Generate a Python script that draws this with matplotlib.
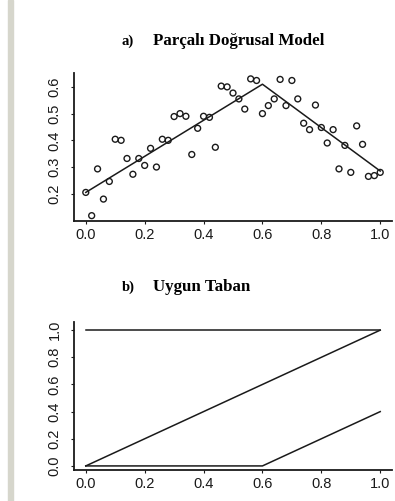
import numpy as np
import matplotlib
matplotlib.use("Agg")
import matplotlib.pyplot as plt
from matplotlib.patches import Rectangle

# observations for the piecewise linear model
x_obs = np.round(np.arange(0, 1.0001, 0.02), 2)
y_obs = [0.205, 0.118, 0.293, 0.180, 0.246, 0.404, 0.400, 0.332, 0.273, 0.332,
         0.306, 0.370, 0.300, 0.404, 0.400, 0.489, 0.500, 0.490, 0.347, 0.445,
         0.490, 0.486, 0.374, 0.603, 0.600, 0.577, 0.555, 0.517, 0.630, 0.624,
         0.500, 0.530, 0.555, 0.628, 0.530, 0.624, 0.555, 0.464, 0.440, 0.532,
         0.448, 0.390, 0.440, 0.293, 0.381, 0.280, 0.454, 0.385, 0.265, 0.268,
         0.280]

# fitted model: knots and values
fit_x = [0.0, 0.6, 1.0]
fit_y = [0.205, 0.610, 0.285]

# basis functions: constant, linear, hinge at 0.6
basis_x = [0.0, 0.6, 1.0]
b_const = [1.0, 1.0, 1.0]
b_lin = [0.0, 0.6, 1.0]
b_hinge = [0.0, 0.0, 0.4]

ticks_x = [0.0, 0.2, 0.4, 0.6, 0.8, 1.0]

W, H = 395, 501
fig = plt.figure(figsize=(W / 100, H / 100), dpi=100)
fig.patch.set_facecolor("white")

# gray strip on the left edge
fig.patches.append(Rectangle((8 / W, 0), 5 / W, 1, transform=fig.transFigure,
                             color="#d6d6cc", zorder=0))

tick_font = {"family": "Liberation Sans", "size": 10.5}


def style(ax):
    for s in ["top", "right"]:
        ax.spines[s].set_visible(False)
    for s in ["left", "bottom"]:
        ax.spines[s].set_linewidth(1.3)
        ax.spines[s].set_color("#1a1a1a")
    ax.tick_params(length=2, width=0.8, colors="#1a1a1a", pad=3)
    ax.tick_params(axis="y", pad=7)
    ax.set_xticks(ticks_x)
    ax.set_xticklabels([f"{t:.1f}" for t in ticks_x], fontdict=tick_font)
    ax.set_xlim(-0.04, 1.04)


def title(y, tag, text):
    fig.text(122 / W, 1 - y / H, tag, family="Liberation Serif", weight="bold",
             fontsize=10.5, va="center", ha="left")
    fig.text(153 / W, 1 - y / H, text, family="Liberation Serif", weight="bold",
             fontsize=12.2, va="center", ha="left")


# a) piecewise linear model
ax1 = fig.add_axes([74 / W, 1 - 221 / H, 318 / W, 148 / H])
style(ax1)
ax1.scatter(x_obs, y_obs, s=18, facecolors="none", edgecolors="#1a1a1a", linewidths=1.0)
ax1.plot(fit_x, fit_y, color="#1a1a1a", lw=1.1)
ax1.set_ylim(0.098, 0.652)
yt1 = [0.2, 0.3, 0.4, 0.5, 0.6]
ax1.set_yticks(yt1)
ax1.set_yticklabels([f"{t:.1f}" for t in yt1], fontdict=tick_font, rotation=90, va="center")
title(41, "a)", "Parçalı Doğrusal Model")

# b) basis functions
ax2 = fig.add_axes([74 / W, 1 - 470 / H, 318 / W, 148 / H])
style(ax2)
for b in [b_const, b_lin, b_hinge]:
    ax2.plot(basis_x, b, color="#1a1a1a", lw=1.1)
ax2.set_ylim(-0.03, 1.06)
yt2 = [0.0, 0.2, 0.4, 0.6, 0.8, 1.0]
ax2.set_yticks(yt2)
ax2.set_yticklabels([f"{t:.1f}" for t in yt2], fontdict=tick_font, rotation=90, va="center")
title(287, "b)", "Uygun Taban")

fig.savefig("out.png", dpi=100)
